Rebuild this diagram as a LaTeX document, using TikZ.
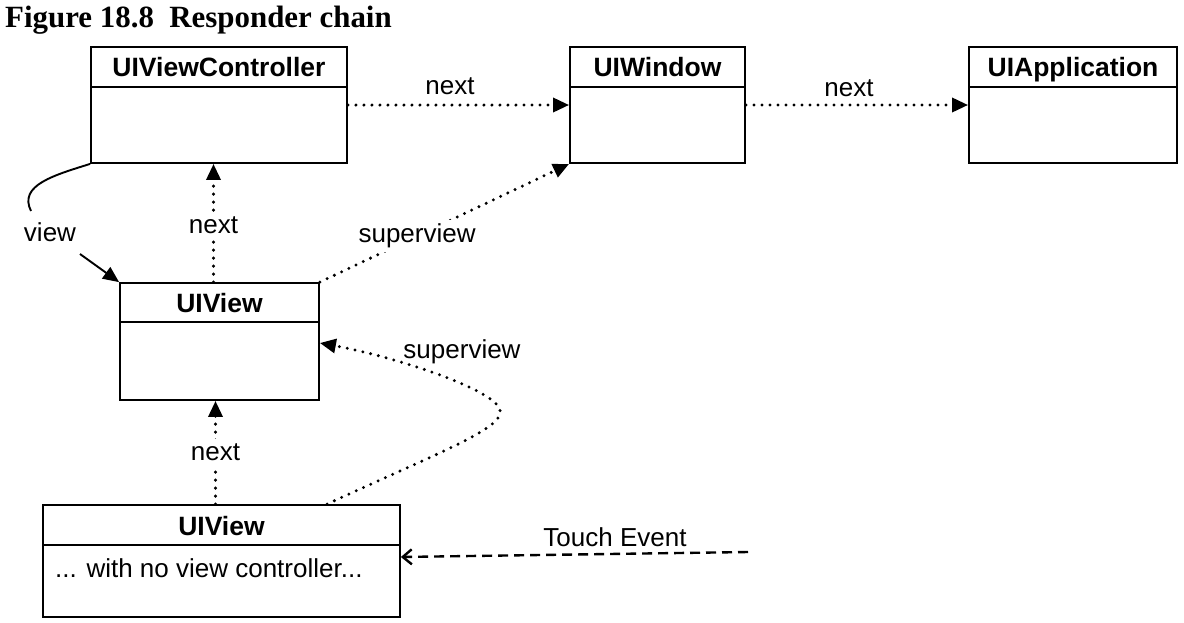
\documentclass[tikz,border=0pt]{standalone}
\usepackage{fontspec}
\setmainfont{Liberation Sans}
\newfontfamily\titlefont{Liberation Serif}
\usetikzlibrary{arrows.meta,calc}
\tikzset{
  box/.style={draw, line width=1.8pt, rectangle, inner sep=0pt},
  hdr/.style={font=\fontsize{26.5}{30}\selectfont\bfseries, anchor=base, inner sep=0pt},
  lbl/.style={font=\fontsize{26}{30}\selectfont, inner sep=1pt},
  dotline/.style={line width=3.3pt, dash pattern=on 0pt off 8pt, line cap=round},
  tri/.style={-{Triangle[length=16pt,width=14pt]}},
  divider/.style={line width=1.8pt}
}
\begin{document}
\begin{tikzpicture}[x=1pt,y=-1pt]
\useasboundingbox (0,0) rectangle (1184,622);
% title
\node[anchor=base west, inner sep=0pt, font=\titlefont\fontsize{30.9}{34}\selectfont\bfseries] (title) at (5,27) {Figure 18.8\hspace{0.5em}Responder chain};
% boxes
\node[box, minimum width=256pt, minimum height=116pt] (vc) at (219,105) {};
\draw[divider] ([yshift=-41pt]vc.north west) -- ([yshift=-41pt]vc.north east);
\node[hdr] (vct) at (219,76) {UIViewController};

\node[box, minimum width=175pt, minimum height=116pt] (win) at (657.5,105) {};
\draw[divider] ([yshift=-41pt]win.north west) -- ([yshift=-41pt]win.north east);
\node[hdr] (wint) at (657.5,76) {UIWindow};

\node[box, minimum width=208pt, minimum height=116pt] (app) at (1073,105) {};
\draw[divider] ([yshift=-41pt]app.north west) -- ([yshift=-41pt]app.north east);
\node[hdr] (appt) at (1073,76) {UIApplication};

\node[box, minimum width=199pt, minimum height=117pt] (vmid) at (219.5,341.5) {};
\draw[divider] ([yshift=-40pt]vmid.north west) -- ([yshift=-40pt]vmid.north east);
\node[hdr] (vmidt) at (219.5,312) {UIView};

\node[box, minimum width=357pt, minimum height=112pt] (vbot) at (221.5,561) {};
\draw[divider] ([yshift=-41pt]vbot.north west) -- ([yshift=-41pt]vbot.north east);
\node[hdr] (vbott) at (221.5,535) {UIView};
\node[lbl, anchor=base west, inner sep=0pt] (vbotx) at (55,577) {... with no view controller...};

% next arrows along top
\draw[dotline, tri] (vc.east) -- (win.west);
\node[lbl] (n1) at (450,86) {next};
\draw[dotline, tri] (win.east) -- (app.west);
\node[lbl] (n2) at (849,88) {next};

% vertical next arrows
\draw[dotline, tri] ([xshift=-6pt]vmid.north) -- ([xshift=-6pt]vmid.north |- vc.south)
  node[lbl, fill=white, pos=0.48, inner sep=5pt] (n3) {next};
\draw[dotline, tri] ([xshift=-6pt]vbot.north) -- ([xshift=-6pt]vbot.north |- vmid.south)
  node[lbl, fill=white, pos=0.5, inner sep=5pt] (n4) {next};

% superview 1
\draw[dotline, tri] (vmid.north east) -- (win.south west)
  node[lbl, fill=white, pos=0.39, inner sep=4pt] (s1) {superview};

% superview 2
\coordinate (sv2a) at ([xshift=285pt]vbot.north west);
\coordinate (sv2turn) at (500,410);
\draw[dotline, tri] (sv2a) .. controls (440,452) and (505,428) .. (sv2turn)
  .. controls (495,390) and (400,358) .. ([yshift=-1.5pt]vmid.east);
\node[lbl] (s2) at (462,352) {superview};

% view
\node[lbl] (view) at (50,232) {view};
\coordinate (vend) at (31,211);
\draw[line width=1.9pt] (vc.south west) .. controls (55,175) and (18,185) .. (vend);
\coordinate (vstart) at (80,254);
\draw[line width=1.9pt, tri] (vstart) -- (vmid.north west);

% touch event
\coordinate (te) at (748,552);
\draw[line width=2.4pt, dash pattern=on 10pt off 6pt, -{Straight Barb[length=9pt,width=15pt]}] (te) -- ([yshift=4pt]vbot.east);
\node[lbl] (tel) at (615,537) {Touch Event};
\end{tikzpicture}
\end{document}
